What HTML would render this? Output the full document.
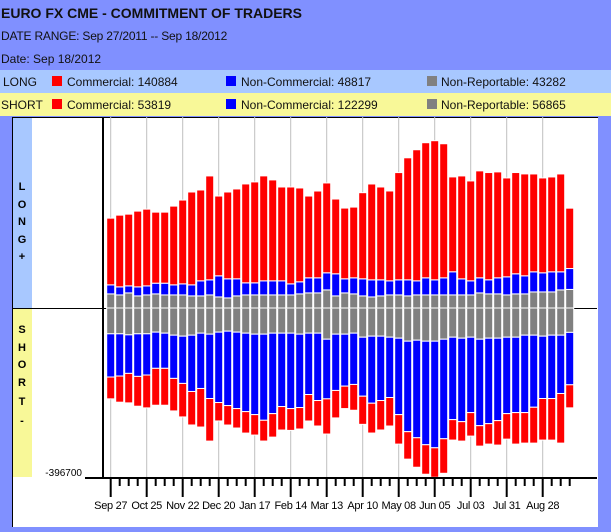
<!DOCTYPE html>
<html><head><meta charset="utf-8"><style>
body{margin:0;width:611px;height:532px;overflow:hidden;background:#8090ff;font-family:"Liberation Sans",Arial,sans-serif;position:relative}
.t{position:absolute;white-space:nowrap;color:#111}
.sq{position:absolute;width:10px;height:10px}
</style></head><body>
<div class="t" style="left:1px;top:5px;font-size:14px;font-weight:bold">EURO FX CME - COMMITMENT OF TRADERS</div>
<div class="t" style="left:1px;top:29px;font-size:12px;letter-spacing:-0.2px">DATE RANGE: Sep 27/2011 -- Sep 18/2012</div>
<div class="t" style="left:1px;top:52px;font-size:12px">Date: Sep 18/2012</div>
<div style="position:absolute;left:0;top:70px;width:611px;height:23px;background:#a8c8ff">
 <div class="t" style="left:3px;top:5px;font-size:12px">LONG</div>
 <div class="sq" style="left:52px;top:6px;background:#f00"></div><div class="t" style="left:67px;top:5px;font-size:12px">Commercial: 140884</div>
 <div class="sq" style="left:226px;top:6px;background:#00f"></div><div class="t" style="left:241px;top:5px;font-size:12px">Non-Commercial: 48817</div>
 <div class="sq" style="left:427px;top:6px;background:#808080"></div><div class="t" style="left:441px;top:5px;font-size:12px">Non-Reportable: 43282</div>
</div>
<div style="position:absolute;left:0;top:93px;width:611px;height:23px;background:#f8f898">
 <div class="t" style="left:1px;top:5px;font-size:12px">SHORT</div>
 <div class="sq" style="left:52px;top:6px;background:#f00"></div><div class="t" style="left:67px;top:5px;font-size:12px">Commercial: 53819</div>
 <div class="sq" style="left:226px;top:6px;background:#00f"></div><div class="t" style="left:241px;top:5px;font-size:12px">Non-Commercial: 122299</div>
 <div class="sq" style="left:427px;top:6px;background:#808080"></div><div class="t" style="left:441px;top:5px;font-size:12px">Non-Reportable: 56865</div>
</div>
<svg id="c" width="611" height="532" style="position:absolute;left:0;top:0" font-family="Liberation Sans, Arial, sans-serif">
 <rect x="12" y="117" width="586" height="410" fill="#fff"/>
 <line x1="12.5" y1="117" x2="12.5" y2="527" stroke="#000" stroke-width="1"/>
 <line x1="12" y1="117.5" x2="598" y2="117.5" stroke="#000" stroke-width="1"/>
 <rect x="13" y="118" width="19" height="190" fill="#a8c8ff"/>
 <rect x="13" y="308" width="19" height="169" fill="#f8f898"/>
 <g id="grid"></g>
 <line x1="12" y1="308.5" x2="597" y2="308.5" stroke="#000" stroke-width="1"/>
 <g id="bars"></g>
 <line x1="103" y1="117" x2="103" y2="478" stroke="#000" stroke-width="2"/>
 <line x1="85" y1="478" x2="597" y2="478" stroke="#000" stroke-width="2"/>
 <text x="82" y="476" font-size="10" text-anchor="end" fill="#000">-396700</text>
 <g id="ticks"></g>
 <g font-size="11" font-weight="bold" fill="#000" text-anchor="middle">
  <text x="22" y="190">L</text><text x="22" y="208">O</text><text x="22" y="225">N</text><text x="22" y="243">G</text><text x="22" y="260">+</text>
 </g>
 <g font-size="11" font-weight="bold" fill="#000" text-anchor="middle">
  <text x="22" y="333">S</text><text x="22" y="351">H</text><text x="22" y="368">O</text><text x="22" y="386">R</text><text x="22" y="405">T</text><text x="22" y="424">-</text>
 </g>
</svg>
<script>
// values in thousands of contracts, 52 weekly reports
const longComm=[155.7,167.4,167.4,176.8,179.1,165.8,165.8,183.8,195.6,216.7,212,242.5,186.2,202.6,209.7,230.8,235.5,244.9,235.5,219,226.1,219,190.9,202.6,209.7,174.5,165.1,165.1,201,223.7,216.7,209.7,250.3,284.8,305.9,315.3,324.7,312.9,221.4,240.2,233.1,249.6,250.3,247.2,230.8,236.3,237.8,228.4,221.4,221.4,228.4,140.9];
const longNonComm=[21.1,18.8,16.4,21.1,21.1,25,27.4,23.5,25.8,25.8,35.2,35.2,49.3,44.6,39.9,28.2,28.2,32.9,32.9,32.9,25.8,28.2,35.2,35.2,39.9,51.6,32.9,37.5,39.9,39.9,37.5,32.9,35.2,37.5,32.9,39.9,35.2,39.9,54,37.5,32.9,35.2,32.9,37.5,42.2,46.9,42.2,46.9,44.6,46.9,42.2,48.8];
const longNonRep=[32.9,30.5,35.2,28.2,30.5,32.9,30.5,30.5,30.5,28.2,28.2,30.5,25.8,23.5,28.2,30.5,30.5,30.5,30.5,30.5,30.5,32.9,35.2,35.2,42.2,28.2,35.2,32.9,28.2,25.8,28.2,30.5,30.5,28.2,30.5,30.5,30.5,30.5,30.5,30.5,30.5,35.2,32.9,32.9,30.5,32.9,32.9,37.5,37.5,37.5,42.2,43.3];
const shortComm=[50.9,61,68.8,69.6,76.7,86.1,86.1,75.9,78.2,78.2,90,99.4,43,45.4,45.4,50.1,47.7,48.5,54.8,54.8,50.9,50.1,61.8,59.5,82.1,64.1,52.4,60.2,65.7,69.6,68.8,66.5,68.8,64.1,68.8,68.8,68.8,80.6,47.7,45.4,54.8,47.7,47.7,57.1,59.5,73.5,71.2,83.7,97,97,115.8,53.8];
const shortNonComm=[100.9,98.6,90,99.4,96.2,84.5,82.1,100.9,110.3,131.4,129.1,150.2,164.3,173.7,178.4,183.1,187.8,201,187.8,171.3,176,171.3,143.2,157.2,139.2,131.4,121.3,119.7,137.7,156.5,150.2,140.8,178.4,211.2,227.7,241.7,248.8,232.3,192.4,194.8,176,201.8,199.5,192.4,178.4,176,180.7,168.2,145.5,147.9,136.1,122.3];
const shortNonRep=[60.2,60.2,62.6,60.2,60.2,56.3,58.7,63.4,65.7,63.4,58.7,61,56.3,54,56.3,58.7,61,61,58.7,58.7,58.7,61,58.7,58.7,72.8,61,61,58.7,68.1,65.7,65.7,68.1,70.4,77.4,75.1,77.4,77.4,72.8,68.1,70.4,68.1,72.8,70.4,70.4,68.1,68.1,63.4,63.4,65.7,63.4,63.4,56.9];
const tickLabels=["Sep 27","Oct 25","Nov 22","Dec 20","Jan 17","Feb 14","Mar 13","Apr 10","May 08","Jun 05","Jul 03","Jul 31","Aug 28"];
const yMinValue=396.7;

const NS="http://www.w3.org/2000/svg";
const base=308, span=170;
function yPx(v){return v/yMinValue*span;}
function xC(i){return 110.7+9*i;}
function mk(tag,attrs,parent){const e=document.createElementNS(NS,tag);for(const k in attrs)e.setAttribute(k,attrs[k]);parent.appendChild(e);return e;}
const grid=document.getElementById('grid'),bars=document.getElementById('bars'),ticks=document.getElementById('ticks');
const n=longComm.length;
for(let i=0;i<n;i++){
  if(i%4===0){
    const g=mk('line',{x1:xC(i),x2:xC(i),y1:117,y2:478,stroke:'#c0c0c0','stroke-width':1},grid);
    
    
  }
  const tk=mk('line',{x1:xC(i),x2:xC(i),y1:478,y2:(i%4===0?497:486),stroke:'#000','stroke-width':2},ticks);
  
  
  const x=xC(i)-4;
  let top=base;
  const up=[[longNonRep[i],'#808080','long-nonreportable'],[longNonComm[i],'#0000ff','long-noncommercial'],[longComm[i],'#ff0000','long-commercial']];
  for(const [v,c,nm] of up){const h=yPx(v);top-=h;
    const r=mk('rect',{x:x,y:top,width:8,height:h,fill:c,stroke:'#fff','stroke-width':1},bars);
    
    }
  let bot=base;
  const dn=[[shortNonRep[i],'#808080','short-nonreportable'],[shortNonComm[i],'#0000ff','short-noncommercial'],[shortComm[i],'#ff0000','short-commercial']];
  for(const [v,c,nm] of dn){const h=yPx(v);
    const r=mk('rect',{x:x,y:bot,width:8,height:h,fill:c,stroke:'#fff','stroke-width':1},bars);
    
    
    bot+=h;}
}
tickLabels.forEach((t,k)=>{
  const tx=mk('text',{x:xC(k*4),y:509,'font-size':11,'text-anchor':'middle',fill:'#000','letter-spacing':'-0.3'},ticks);
  tx.textContent=t;
  
  
});
</script>
</body></html>
